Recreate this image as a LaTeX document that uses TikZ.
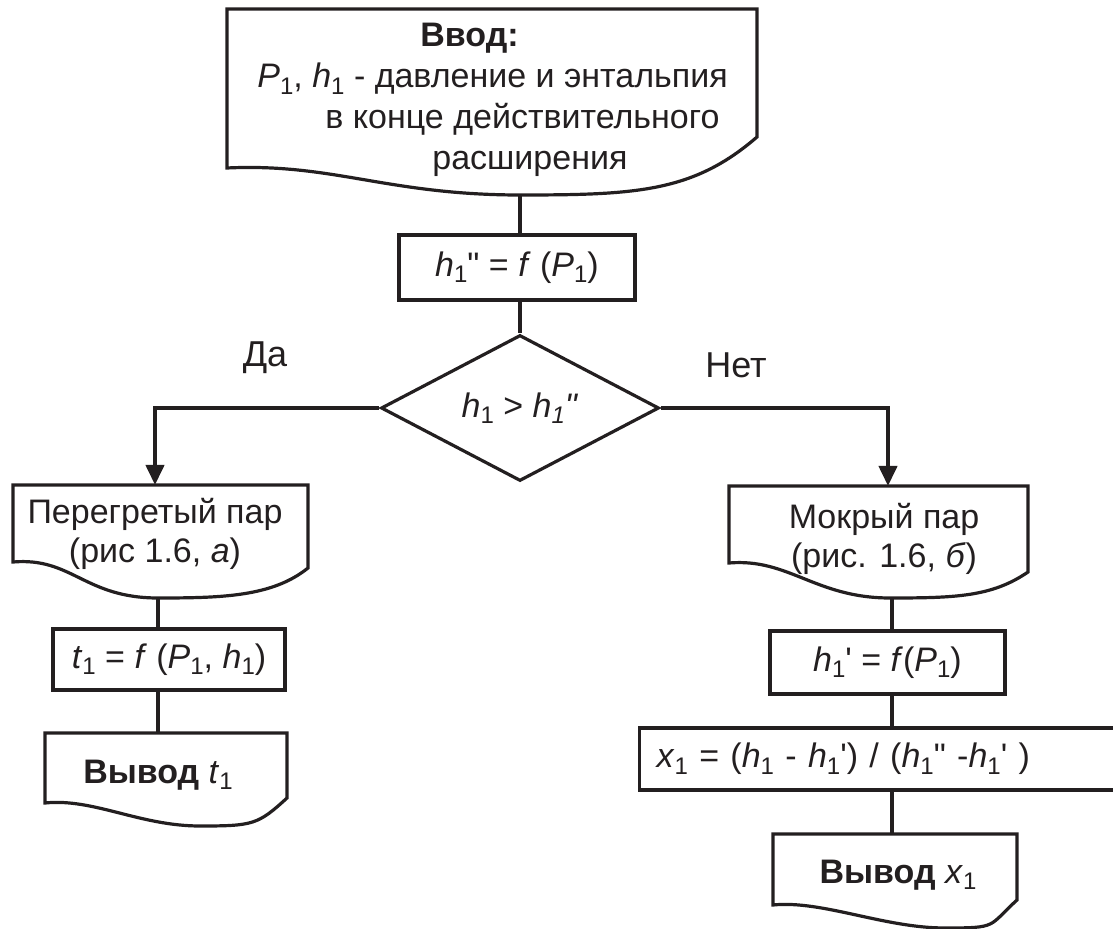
\documentclass[tikz,border=0pt]{standalone}
\usepackage{fontspec}
\newfontfamily\arial{Liberation Sans}
\usetikzlibrary{arrows.meta,calc,shapes.geometric}
\definecolor{ink}{RGB}{35,31,32}

% lowered subscript digit
\newcommand{\sbs}[1]{\raisebox{-3.2pt}{\fontsize{12}{12}\selectfont #1}}

% document symbol: #1 name, #2 left x, #3 right x, #4 top y,
% #5 left bottom y, #6 right bottom y, #7/#8 lowest point of the wavy edge
\newcommand{\docshape}[8]{%
  \draw[shapeline] (#2,#5) -- (#2,#4) -- (#3,#4) -- (#3,#6)
    .. controls ({#3-0.12*(#3-#2)},{#6+0.95*(#8-#6)}) and ({#7+0.22*(#3-#2)},{#8}) .. (#7,#8)
    .. controls ({#7-0.25*(#3-#2)},{#8}) and ({#2+0.2*(#3-#2)},{#5-5}) .. (#2,#5) -- cycle;
  \coordinate (#1-out) at (#7,#8);
}

\tikzset{
  shapeline/.style={draw=ink, line width=1.6pt, line join=miter},
  flow/.style={draw=ink, line width=2pt},
  arrowflow/.style={flow, -{Triangle[length=10pt,width=9pt]}},
  txt/.style={font=\arial\fontsize{17}{19.5}\selectfont, text=ink, inner sep=0pt, align=center},
  box/.style={shapeline, txt, rectangle},
  lbl/.style={font=\arial\fontsize{18}{20}\selectfont, text=ink, inner sep=0pt},
}

\begin{document}
\begin{tikzpicture}[x=0.5pt,y=-0.5pt]
\useasboundingbox (0,0) rectangle (1113,929);
\clip (0,0) rectangle (1113,929);

% input document
\docshape{in}{227}{757}{9}{168}{137}{520}{195}
\node[txt, align=left, anchor=north west,
      font=\arial\fontsize{17}{20.5}\selectfont] (input) at (257,23)
  {\hspace*{81.5pt}\textbf{Ввод:}\\
   \textit{P}\sbs{1}, \textit{h}\sbs{1} - давление и энтальпия\\
   \hspace*{34pt}в конце действительного\\
   \hspace*{87.5pt}расширения};

% saturation enthalpy
\node[box, minimum width=118pt, minimum height=32.5pt] (hsat) at (517,267.5)
  {\textit{h}\sbs{1}" = \textit{f} (\textit{P}\sbs{1})};

% decision
\node[shape=diamond, shapeline, txt, minimum width=139pt, minimum height=73pt,
      aspect=1.9] (dec) at (520,408)
  {\textit{h}\sbs{1} > \textit{h}\sbs{\itshape 1}\textit{"}};

\node[lbl, anchor=base] (yes) at (265,367) {Да};
\node[lbl, anchor=base] (no) at (736,378) {Нет};

% superheated branch
\docshape{hot}{13}{308}{485}{562}{568}{158}{598}
\coordinate (hot-top) at (155,485);
\node[txt, anchor=north] (hot) at (155,498)
  {Перегретый пар\\(рис 1.6, \textit{а})};

\node[box, minimum width=116pt, minimum height=30.5pt] (temp) at (169,659.5)
  {\textit{t}\sbs{1} = \textit{f} (\textit{P}\sbs{1}, \textit{h}\sbs{1})};

\docshape{outT}{45}{287}{733}{803}{798}{200}{826}
\node[txt, anchor=base] (outT) at (158,783) {\textbf{Вывод} \textit{t}\sbs{1}};

% wet steam branch
\docshape{wet}{729}{1028}{486}{563}{572}{890}{598}
\coordinate (wet-top) at (888,486);
\node[txt, anchor=north] (wet) at (884,503)
  {Мокрый пар\\(рис. 1.6, \textit{б})};

\node[box, minimum width=117.5pt, minimum height=31.5pt] (hliq) at (887.5,662.5)
  {\textit{h}\sbs{1}' = \textit{f}(\textit{P}\sbs{1})};

\node[box, anchor=west, minimum height=31pt, text width=234pt, align=left,
      inner xsep=8.5pt] (dry) at (638,759)
  {\textit{x}\sbs{1} = (\textit{h}\sbs{1} - \textit{h}\sbs{1}') / (\textit{h}\sbs{1}" -\textit{h}\sbs{1}' )};

\docshape{outX}{773}{1017}{834}{905}{900}{945}{928}
\node[txt, anchor=base] (outX) at (898,883) {\textbf{Вывод} \textit{x}\sbs{1}};

% connectors
\draw[flow] (in-out) -- (in-out |- hsat.north);
\draw[flow] (dec.north |- hsat.south) -- (dec.north);
\draw[arrowflow] (dec.west) -- (dec.west -| hot-top) -- (hot-top);
\draw[arrowflow] (dec.east) -- (dec.east -| wet-top) -- (wet-top);
\draw[flow] (hot-out) -- (hot-out |- temp.north);
\draw[flow] (hot-out |- temp.south) -- (hot-out |- 0,733);
\draw[flow] (wet-out) ++(2,0) coordinate (wet-x) -- (wet-x |- hliq.north);
\draw[flow] (wet-x |- hliq.south) -- (wet-x |- dry.north);
\draw[flow] (wet-x |- dry.south) -- (wet-x |- 0,834);
\end{tikzpicture}
\end{document}
